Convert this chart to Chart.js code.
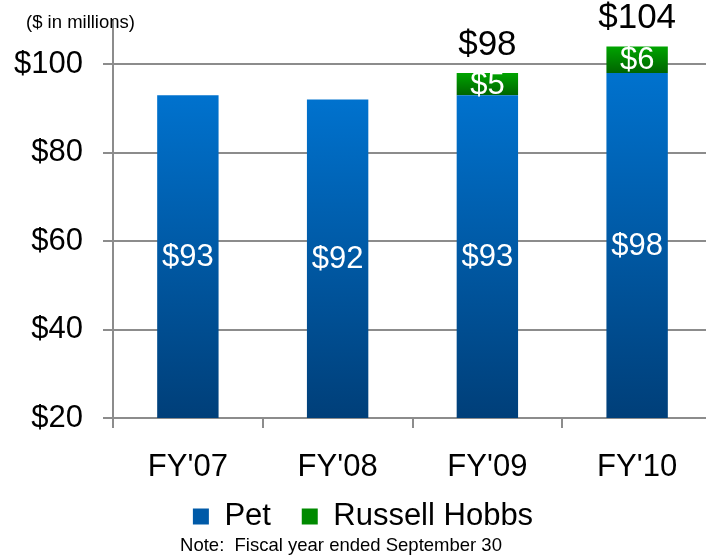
<!DOCTYPE html>
<html>
<head>
<meta charset="utf-8">
<script src="https://cdn.jsdelivr.net/npm/chart.js@4/dist/chart.umd.min.js"></script>
<style>
  html, body { margin: 0; padding: 0; background: #fff; overflow: hidden; }
  #wrap { width: 706px; height: 557px; overflow: hidden; position: relative; }
  #revenue { position: absolute; left: 0; top: 0; }
</style>
</head>
<body>
<div id="wrap"><canvas id="revenue" width="712" height="557"></canvas></div>
<script>
var years = ["FY'07", "FY'08", "FY'09", "FY'10"];
var petSales = [93, 92, 93, 98];
var russellSales = [0, 0, 5, 6];
var totalLabels = ['', '', '$98', '$104'];

var FONT = "'Liberation Sans', Arial, sans-serif";
var GRID = '#8c8c8c';

function barGradient(ctx, lo, hi, top, bottom) {
  var chart = ctx.chart;
  if (!chart.chartArea) return top;
  var y = chart.scales.y;
  var g = chart.ctx.createLinearGradient(0, y.getPixelForValue(hi), 0, y.getPixelForValue(lo));
  g.addColorStop(0, top);
  g.addColorStop(1, bottom);
  return g;
}

var labelsPlugin = {
  id: 'barLabels',
  afterDatasetsDraw: function (chart) {
    var c = chart.ctx;
    var y = chart.scales.y;
    var floor = y.min;
    c.save();
    c.textAlign = 'center';
    c.textBaseline = 'middle';
    chart.data.datasets.forEach(function (ds, di) {
      var meta = chart.getDatasetMeta(di);
      meta.data.forEach(function (bar, i) {
        var v = ds.data[i];
        if (!v) return;
        var base = di === 0 ? floor : petSales[i];
        var top = di === 0 ? v : petSales[i] + v;
        var mid = (y.getPixelForValue(base) + y.getPixelForValue(top)) / 2;
        c.fillStyle = '#ffffff';
        c.font = '31px ' + FONT;
        c.fillText('$' + v, bar.x, mid + 1);
      });
    });
    // totals above the stacked bars
    var meta0 = chart.getDatasetMeta(0);
    c.fillStyle = '#000000';
    c.font = '35px ' + FONT;
    totalLabels.forEach(function (t, i) {
      if (!t) return;
      var topVal = petSales[i] + russellSales[i];
      c.fillText(t, meta0.data[i].x, y.getPixelForValue(topVal) - 28);
    });
    // notes
    c.font = '18.5px ' + FONT;
    c.textAlign = 'left';
    c.fillText('($ in millions)', 26, 23);
    c.textAlign = 'center';
    c.fillText('Note:  Fiscal year ended September 30', 341, 546);
    c.restore();
  }
};

new Chart(document.getElementById('revenue'), {
  type: 'bar',
  data: {
    labels: years,
    datasets: [{
      label: 'Pet',
      data: petSales,
      backgroundColor: function (ctx) {
        return barGradient(ctx, 20, petSales[ctx.dataIndex], '#0072ce', '#003f79');
      },
      barPercentage: 0.41,
      categoryPercentage: 1
    }, {
      label: 'Russell Hobbs',
      data: russellSales,
      backgroundColor: function (ctx) {
        var i = ctx.dataIndex;
        return barGradient(ctx, petSales[i], petSales[i] + russellSales[i], '#00a400', '#006400');
      },
      barPercentage: 0.41,
      categoryPercentage: 1
    }]
  },
  options: {
    responsive: false,
    animation: false,
    layout: { padding: { left: 14, right: 0, top: 20, bottom: 15 } },
    scales: {
      x: {
        stacked: true,
        afterFit: function (scale) { scale.height = 78; },
        grid: { drawOnChartArea: false, drawTicks: true, tickLength: 10, color: GRID, lineWidth: 2, offset: true },
        border: { display: true, color: GRID, width: 2 },
        ticks: { color: '#000', font: { family: FONT, size: 31 }, padding: 21 }
      },
      y: {
        stacked: true,
        min: 20,
        max: 110,
        afterBuildTicks: function (scale) {
          scale.ticks = scale.ticks.filter(function (t) { return t.value <= 100; });
        },
        afterFit: function (scale) {
          scale.width = 99;
          scale.paddingTop = 0;
          scale.paddingBottom = 0;
        },
        grid: { color: GRID, lineWidth: 2, tickLength: 10 },
        border: { display: true, color: GRID, width: 2 },
        ticks: {
          stepSize: 20,
          padding: 20,
          color: '#000',
          font: { family: FONT, size: 31 },
          callback: function (v) { return '$' + v; }
        }
      }
    },
    plugins: {
      legend: {
        position: 'bottom',
        labels: {
          color: '#000',
          font: { family: FONT, size: 31 },
          boxWidth: 16,
          boxHeight: 16,
          padding: 5,
          generateLabels: function (chart) {
            return [
              { text: 'Pet   ', fillStyle: '#005aa8', strokeStyle: '#005aa8', lineWidth: 0, datasetIndex: 0 },
              { text: 'Russell Hobbs', fillStyle: '#008a00', strokeStyle: '#008a00', lineWidth: 0, datasetIndex: 1 }
            ];
          }
        }
      },
      tooltip: { enabled: false }
    }
  },
  plugins: [labelsPlugin]
});
</script>
</body>
</html>
